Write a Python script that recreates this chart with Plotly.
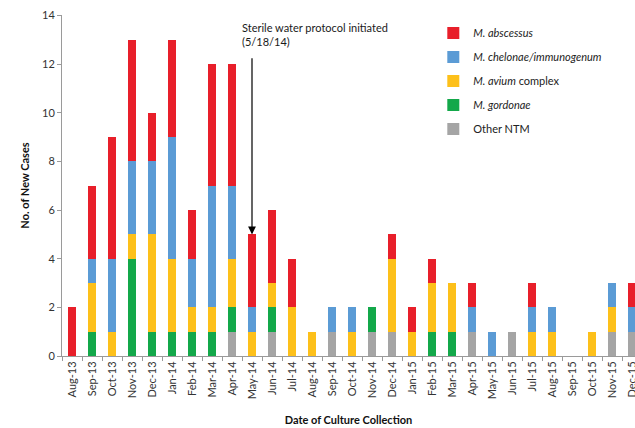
import plotly.graph_objects as go

months = ["Aug-13", "Sep-13", "Oct-13", "Nov-13", "Dec-13", "Jan-14", "Feb-14", "Mar-14",
          "Apr-14", "May-14", "Jun-14", "Jul-14", "Aug-14", "Sep-14", "Oct-14", "Nov-14",
          "Dec-14", "Jan-15", "Feb-15", "Mar-15", "Apr-15", "May-15", "Jun-15", "Jul-15",
          "Aug-15", "Sep-15", "Oct-15", "Nov-15", "Dec-15"]

other_ntm  = [0, 0, 0, 0, 0, 0, 0, 0, 1, 0, 1, 0, 0, 1, 0, 1, 1, 0, 0, 0, 1, 0, 1, 0, 0, 0, 0, 1, 1]
gordonae   = [0, 1, 0, 4, 1, 1, 1, 1, 1, 0, 1, 0, 0, 0, 0, 1, 0, 0, 1, 1, 0, 0, 0, 0, 0, 0, 0, 0, 0]
avium      = [0, 2, 1, 1, 4, 3, 1, 1, 2, 1, 1, 2, 1, 0, 1, 0, 3, 1, 2, 2, 0, 0, 0, 1, 1, 0, 1, 1, 0]
chelonae   = [0, 1, 3, 3, 3, 5, 2, 5, 3, 1, 0, 0, 0, 1, 1, 0, 0, 0, 0, 0, 1, 1, 0, 1, 1, 0, 0, 1, 1]
abscessus  = [2, 3, 5, 5, 2, 4, 2, 5, 5, 3, 3, 2, 0, 0, 0, 0, 1, 1, 1, 0, 1, 0, 0, 1, 0, 0, 0, 0, 1]

y_ticks = [0, 2, 4, 6, 8, 10, 12, 14]

series = [
    ("Other NTM", other_ntm, "#A5A5A5"),
    ("<i>M. gordonae</i>", gordonae, "#13A84A"),
    ("<i>M. avium</i> complex", avium, "#FDC01A"),
    ("<i>M. chelonae/immunogenum</i>", chelonae, "#5B9BD5"),
    ("<i>M. abscessus</i>", abscessus, "#E81F2A"),
]

event_month = "May-14"
event_label = "Sterile water protocol initiated<br>(5/18/14)"

fig = go.Figure()
n = len(series)
for i, (name, vals, color) in enumerate(series):
    fig.add_trace(go.Bar(x=months, y=vals, name=name, marker_color=color,
                         marker_line_width=0, legendgroup=f"g{i}",
                         legendrank=n - i))

idx = months.index(event_month)
top = sum(s[1][idx] for s in series)
fig.add_annotation(x=idx, y=top, ax=idx, ay=12.3, xref="x", yref="y",
                   axref="x", ayref="y", text="", showarrow=True,
                   arrowhead=2, arrowsize=1.3, arrowwidth=1.2, arrowcolor="#000000")
fig.add_annotation(x=idx - 0.6, y=12.6, xref="x", yref="y", text=event_label,
                   showarrow=False, xanchor="left", yanchor="bottom", align="left",
                   font=dict(size=11, color="#1a1a1a"))

fig.update_layout(
    width=635, height=428,
    margin=dict(l=62, r=0, t=15, b=72),
    barmode="stack", bargap=0.6,
    plot_bgcolor="white", paper_bgcolor="white",
    font=dict(family="Lato", size=11, color="#333333"),
    showlegend=True,
    legend=dict(x=0.648, y=0.99, xanchor="left", yanchor="top",
                traceorder="grouped", tracegroupgap=5,
                font=dict(size=11, color="#222222"), bgcolor="rgba(0,0,0,0)",
                itemwidth=30),
)
fig.update_xaxes(type="category", range=[-0.5, 28.15], tickangle=-90,
                 showline=True, linecolor="#9a9a9a", linewidth=1,
                 ticks="outside", ticklen=4, tickcolor="#9a9a9a", tickson="boundaries",
                 tickfont=dict(size=11, color="#333333"), automargin=False,
                 ticklabeloverflow="allow",
                 title=dict(text="<b>Date of Culture Collection</b>", standoff=17,
                            font=dict(size=11, color="#111111")))
fig.update_yaxes(range=[0, 14.02], tickmode="array", tickvals=y_ticks,
                 showgrid=False, zeroline=False,
                 showline=True, linecolor="#9a9a9a", linewidth=1,
                 ticks="outside", ticklen=4, tickcolor="#9a9a9a",
                 tickfont=dict(size=11, color="#333333"), automargin=False,
                 ticklabeloverflow="allow",
                 title=dict(text="<b>No. of New Cases</b>", standoff=10,
                            font=dict(size=11, color="#111111")))

fig.write_html("out.html", config={"displayModeBar": False},
               post_script="document.body.style.margin='0';document.body.style.overflow='hidden';")
